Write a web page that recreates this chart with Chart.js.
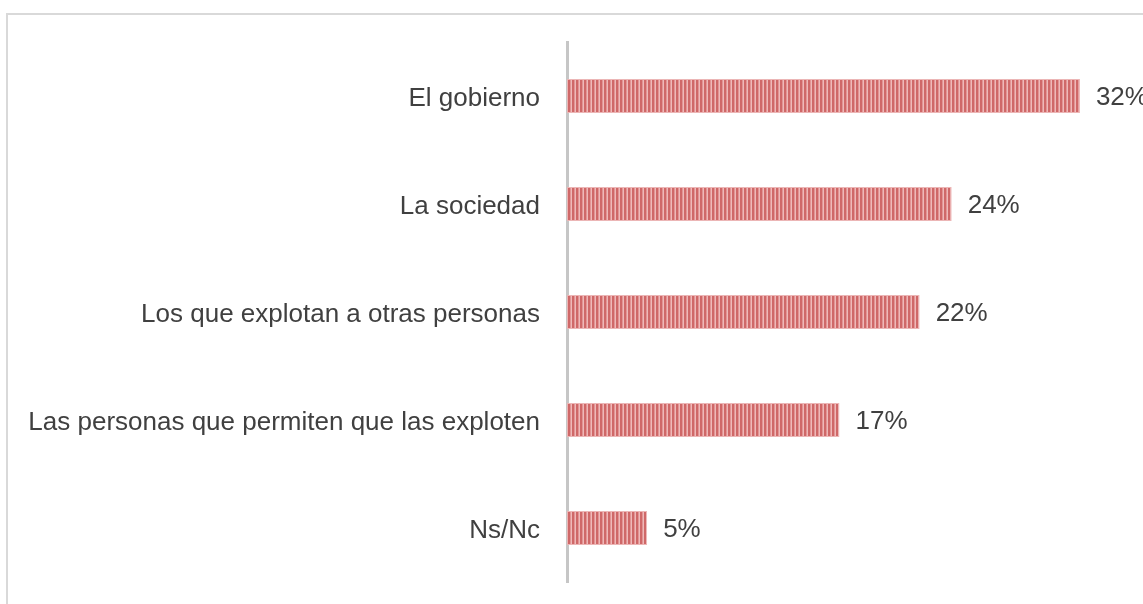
<!DOCTYPE html>
<html>
<head>
<meta charset="utf-8">
<script src="https://cdn.jsdelivr.net/npm/chart.js@4.4.1/dist/chart.umd.min.js"></script>
<style>
  html, body { margin: 0; padding: 0; background: #ffffff; overflow: hidden; }
  #wrap { position: relative; width: 1143px; height: 604px; }
  #frame { position: absolute; left: 6px; top: 13px; width: 2000px; height: 2000px;
           border-left: 2px solid #d9d9d9; border-top: 2px solid #d9d9d9; box-sizing: border-box; }
  canvas { position: absolute; left: 0; top: 0; }
</style>
</head>
<body>
<div id="wrap">
  <div id="frame"></div>
  <canvas id="c" width="1143" height="604"></canvas>
</div>
<script>
const categories = [
  "El gobierno",
  "La sociedad",
  "Los que explotan a otras personas",
  "Las personas que permiten que las exploten",
  "Ns/Nc"
];
const values = [32, 24, 22, 17, 5];
const valueSuffix = "%";

function makePattern() {
  const p = document.createElement('canvas');
  p.width = 4; p.height = 4;
  const g = p.getContext('2d');
  g.fillStyle = '#cf6868';
  g.fillRect(0, 0, 2, 4);
  g.fillStyle = '#e39595';
  g.fillRect(2, 0, 1, 4);
  g.fillStyle = '#eeb9b9';
  g.fillRect(3, 0, 1, 4);
  return g.createPattern(p, 'repeat');
}
const pattern = makePattern();

const valueLabels = {
  id: 'valueLabels',
  afterDatasetsDraw(chart) {
    const ctx = chart.ctx;
    const meta = chart.getDatasetMeta(0);
    ctx.save();
    ctx.font = '26px "Liberation Sans", Arial, sans-serif';
    ctx.fillStyle = '#404040';
    ctx.textAlign = 'left';
    ctx.textBaseline = 'middle';
    meta.data.forEach((bar, i) => {
      ctx.fillText(values[i] + valueSuffix, bar.x + 16, bar.y + 2);
    });
    ctx.restore();
  }
};

new Chart(document.getElementById('c'), {
  type: 'bar',
  data: {
    labels: categories,
    datasets: [{
      data: values,
      backgroundColor: pattern,
      borderColor: '#ecb6b6',
      borderWidth: 1,
      borderSkipped: false,
      barPercentage: 0.63,
      categoryPercentage: 0.5
    }]
  },
  options: {
    indexAxis: 'y',
    responsive: false,
    animation: false,
    events: [],
    layout: { padding: { left: 0, top: 42, bottom: 22, right: 15 } },
    plugins: {
      legend: { display: false },
      tooltip: { enabled: false }
    },
    scales: {
      x: {
        display: false,
        min: 0,
        max: 35
      },
      y: {
        afterFit(scale) {
          scale.width = 567;
          scale.paddingTop = 0;
          scale.paddingBottom = 0;
        },
        grid: { display: false, drawTicks: false },
        border: { display: true, color: '#c6c6c6', width: 3 },
        ticks: {
          padding: 27,
          labelOffset: 3,
          color: '#404040',
          font: { family: '"Liberation Sans", Arial, sans-serif', size: 26 }
        }
      }
    }
  },
  plugins: [valueLabels]
});
</script>
</body>
</html>
